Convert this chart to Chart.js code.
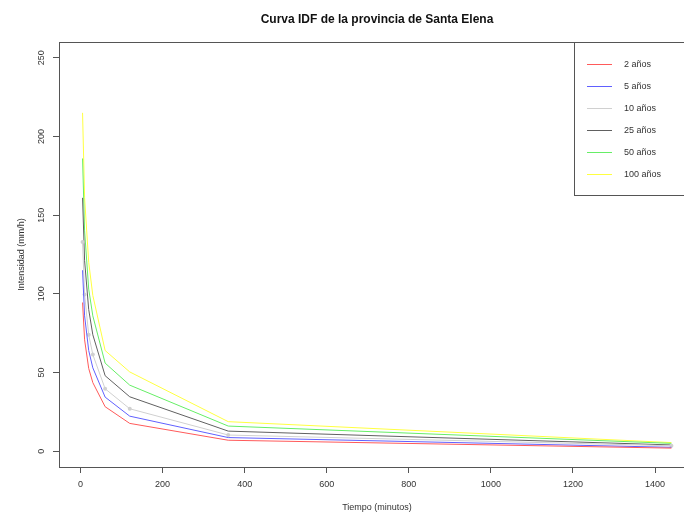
<!DOCTYPE html>
<html>
<head>
<meta charset="utf-8">
<script src="https://cdn.jsdelivr.net/npm/chart.js@4"></script>
<style>
  html, body { margin: 0; padding: 0; background: #fff; overflow: hidden; }
  canvas { display: block; }
</style>
</head>
<body>
<canvas id="idf" width="704" height="513"></canvas>
<script>
// duracion (minutos) e intensidades (mm/h)
const durations = [5, 10, 20, 30, 60, 120, 360, 1440];
const i2 = [94.5, 70.8, 52.6, 43.6, 28.3, 17.7, 7.0, 2.0];
const i5 = [115, 86, 64, 53, 34.4, 22.3, 8.7, 2.5];
const i10 = [133, 99.6, 74, 61.4, 39.7, 27, 10.3, 3.5];
const i25 = [161, 121, 90, 74, 48, 34.6, 12.8, 4.0];
const i50 = [186, 140, 103, 86, 56, 42, 16, 5.0];
const i100 = [215, 161, 120, 99, 64, 50.4, 18.8, 5.5];

const seriesNames = ['2 años', '5 años', '10 años', '25 años', '50 años', '100 años'];
const seriesColors = ['#ff5a5a', '#6060ff', '#d0d0d0', '#606060', '#66ee66', '#ffff40'];
const xTicks = [0, 200, 400, 600, 800, 1000, 1200, 1400];
const yTicks = [0, 50, 100, 150, 200, 250];

const FONT = 'Arial, "Liberation Sans", sans-serif';

function toPoints(values) {
  return durations.map(function (d, i) { return { x: d, y: values[i] }; });
}

const allSeries = [i2, i5, i10, i25, i50, i100];
const datasets = allSeries.map(function (vals, k) {
  return {
    label: seriesNames[k],
    data: toPoints(vals),
    borderColor: seriesColors[k],
    backgroundColor: seriesColors[k],
    borderWidth: 1,
    pointRadius: k === 2 ? 2 : 0,
    pointBorderWidth: 0,
    tension: 0
  };
});

// titulo, caja del grafico, etiquetas del eje y y leyenda
const rPlotExtras = {
  id: 'rPlotExtras',
  afterDraw: function (chart) {
    const ctx = chart.ctx;
    const area = chart.chartArea;
    ctx.save();

    ctx.strokeStyle = '#555';
    ctx.lineWidth = 1;
    ctx.strokeRect(Math.round(area.left) + 0.5, Math.round(area.top) + 0.5,
      area.right - area.left, area.bottom - area.top);

    ctx.fillStyle = '#111';
    ctx.font = 'bold 12px ' + FONT;
    ctx.textAlign = 'center';
    ctx.textBaseline = 'middle';
    ctx.fillText('Curva IDF de la provincia de Santa Elena', (area.left + area.right) / 2, 19.5);

    const ys = chart.scales.y;
    ctx.font = '9px ' + FONT;
    ctx.fillStyle = '#333';
    yTicks.forEach(function (v) {
      const py = ys.getPixelForValue(v);
      ctx.save();
      ctx.translate(42, py);
      ctx.rotate(-Math.PI / 2);
      ctx.fillText(String(v), 0, 0);
      ctx.restore();
    });

    // leyenda
    const lx = 574.5, ly = Math.round(area.top) + 0.5, lh = 153;
    ctx.fillStyle = '#fff';
    ctx.fillRect(lx, ly, 140, lh);
    ctx.strokeStyle = '#555';
    ctx.strokeRect(lx, ly, 140, lh);
    ctx.textAlign = 'left';
    seriesNames.forEach(function (name, k) {
      const y = Math.round(64 + k * 22) + 0.5;
      ctx.strokeStyle = seriesColors[k];
      ctx.beginPath();
      ctx.moveTo(587, y);
      ctx.lineTo(612, y);
      ctx.stroke();
      ctx.fillStyle = '#333';
      ctx.fillText(name, 624, y);
    });

    ctx.restore();
  }
};

new Chart(document.getElementById('idf'), {
  type: 'line',
  data: { datasets: datasets },
  plugins: [rPlotExtras],
  options: {
    responsive: false,
    devicePixelRatio: 1,
    animation: false,
    layout: { padding: { top: 42, left: 0, right: 9, bottom: 0 } },
    plugins: {
      legend: { display: false },
      tooltip: { enabled: false }
    },
    scales: {
      x: {
        type: 'linear',
        min: -52.4,
        max: 1497.4,
        afterBuildTicks: function (s) { s.ticks = xTicks.map(function (v) { return { value: v }; }); },
        afterFit: function (s) { s.height = 46; },
        grid: { drawOnChartArea: false, drawTicks: true, tickLength: 6, color: '#555' },
        border: { display: true, color: '#555' },
        ticks: {
          color: '#333',
          font: { family: FONT, size: 9 },
          padding: 6,
          maxRotation: 0,
          callback: function (v) { return String(v); }
        },
        title: {
          display: true,
          text: 'Tiempo (minutos)',
          color: '#333',
          font: { family: FONT, size: 9 },
          padding: { top: 0, bottom: 0 }
        }
      },
      y: {
        type: 'linear',
        min: -10,
        max: 260,
        afterBuildTicks: function (s) { s.ticks = yTicks.map(function (v) { return { value: v }; }); },
        afterFit: function (s) { s.width = 59; },
        grid: { drawOnChartArea: false, drawTicks: true, tickLength: 6, color: '#555' },
        border: { display: true, color: '#555' },
        ticks: { display: false },
        title: {
          display: true,
          text: 'Intensidad (mm/h)',
          color: '#333',
          font: { family: FONT, size: 9 },
          padding: { top: 16, bottom: 0 }
        }
      }
    }
  }
});
</script>
</body>
</html>
